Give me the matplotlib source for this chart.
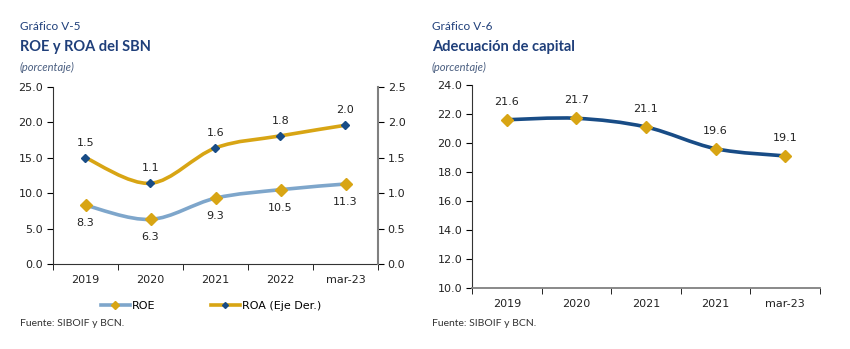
import matplotlib
matplotlib.use("Agg")
import matplotlib.pyplot as plt
from matplotlib.path import Path
from matplotlib.patches import PathPatch
from matplotlib.lines import Line2D

# ROE / ROA del SBN
years_left = ["2019", "2020", "2021", "2022", "mar-23"]
roe = [8.3, 6.3, 9.3, 10.5, 11.3]
roa = [1.50, 1.14, 1.64, 1.81, 1.96]

# Adecuación de capital
years_right = ["2019", "2020", "2021", "2021", "mar-23"]
adecuacion = [21.6, 21.7, 21.1, 19.6, 19.1]

NAVY = "#1F3F7A"
LIGHT_BLUE = "#7EA6CB"
GOLD = "#D8A514"
DARK_BLUE = "#184C86"
TICK_FONT = "DejaVu Sans"
TITLE_FONT = "Lato"


def smooth_path(xs, ys, k=1 / 6):
    # Catmull-Rom style Bezier through the data points
    pts = list(zip(xs, ys))
    verts = [pts[0]]
    codes = [Path.MOVETO]
    n = len(pts)
    for i in range(n - 1):
        p0 = pts[i - 1] if i > 0 else pts[i]
        p1 = pts[i]
        p2 = pts[i + 1]
        p3 = pts[i + 2] if i + 2 < n else pts[i + 1]
        c1 = (p1[0] + (p2[0] - p0[0]) * k, p1[1] + (p2[1] - p0[1]) * k)
        c2 = (p2[0] - (p3[0] - p1[0]) * k, p2[1] - (p3[1] - p1[1]) * k)
        verts += [c1, c2, p2]
        codes += [Path.CURVE4] * 3
    return Path(verts, codes)


def draw_series(ax, ys, color, lw, mcolor, marker_size, zorder=3):
    xs = list(range(len(ys)))
    ax.add_patch(PathPatch(smooth_path(xs, ys), facecolor="none",
                           edgecolor=color, lw=lw, zorder=zorder,
                           capstyle="round"))
    ax.plot(xs, ys, ls="none", marker="D", ms=marker_size, color=mcolor,
            zorder=zorder + 1)


def headers(x, title):
    fig.text(x, 1 - 27 / 349, "Gráfico V-" + title[0], fontsize=8.5,
             color=NAVY, family=TITLE_FONT, va="center")
    fig.text(x, 1 - 47 / 349, title[1], fontsize=10.5, color=NAVY,
             family=TITLE_FONT, weight="bold", va="center")
    fig.text(x, 1 - 67 / 349, "(porcentaje)", fontsize=8, color="#4A5E80",
             family=TITLE_FONT, style="italic", va="center")


fig = plt.figure(figsize=(8.5, 3.49), dpi=100)

# ---- left chart
ax = fig.add_axes([53 / 850, 1 - 264 / 349, 325 / 850, 177 / 349])
ax2 = ax.twinx()
ax.set_xlim(-0.5, 4.5)
ax.set_ylim(0, 25)
ax2.set_ylim(0, 2.5)
ax.set_yticks([0, 5, 10, 15, 20, 25])
ax2.set_yticks([0, 0.5, 1.0, 1.5, 2.0, 2.5])
ax.set_yticklabels([f"{v:.1f}" for v in ax.get_yticks()])
ax2.set_yticklabels([f"{v:.1f}" for v in ax2.get_yticks()])
ax.set_xticks(range(len(years_left)))
ax.set_xticklabels(years_left)
ax.set_xticks([i - 0.5 for i in range(len(years_left) + 1)], minor=True)
ax.tick_params(axis="x", which="major", length=0, pad=8)
ax.tick_params(axis="x", which="minor", length=4, direction="out")
ax.tick_params(axis="y", length=4, direction="out", pad=3)
ax2.tick_params(axis="y", length=4, direction="out", pad=3)
for a in (ax, ax2):
    a.spines["top"].set_visible(False)
    for lab in a.get_xticklabels() + a.get_yticklabels():
        lab.set_fontsize(8)
        lab.set_family(TICK_FONT)
        lab.set_color("#222222")
ax2.spines["left"].set_visible(False)
ax2.spines["bottom"].set_visible(False)
ax.spines["right"].set_visible(False)
ax2.spines["right"].set_color("#808080")
ax2.spines["right"].set_linewidth(1.5)
ax.spines["bottom"].set_color("#333333")
ax.spines["left"].set_color("#333333")

draw_series(ax, roe, LIGHT_BLUE, 2.6, GOLD, 6.5)
draw_series(ax2, roa, GOLD, 2.6, DARK_BLUE, 4.5)
for i, v in enumerate(roe):
    ax.annotate(f"{v:.1f}", (i, v), xytext=(0, -13), textcoords="offset points",
                ha="center", va="center", fontsize=8, family=TICK_FONT,
                color="#222222")
for i, v in enumerate(roa):
    ax2.annotate(f"{v:.1f}", (i, v), xytext=(0, 11), textcoords="offset points",
                 ha="center", va="center", fontsize=8, family=TICK_FONT,
                 color="#222222")

handles = [
    Line2D([], [], color=LIGHT_BLUE, lw=2.6, marker="D", ms=4,
           mfc=GOLD, mec=GOLD),
    Line2D([], [], color=GOLD, lw=2.6, marker="D", ms=3,
           mfc=DARK_BLUE, mec=DARK_BLUE),
]
fig.legend(handles, ["ROE", "ROA (Eje Der.)"], loc="center",
           bbox_to_anchor=(211 / 850, 1 - 306 / 349), ncol=2, frameon=False,
           handlelength=2.6, columnspacing=5.0, handletextpad=0.2,
           prop={"family": TICK_FONT, "size": 8})
fig.text(20 / 850, 1 - 323 / 349, "Fuente: SIBOIF y BCN.", fontsize=7.5,
         family=TITLE_FONT, color="#333333", va="center")
headers(20 / 850, ("5", "ROE y ROA del SBN"))

# ---- right chart
bx = fig.add_axes([472 / 850, 1 - 287.7 / 349, 348 / 850, 202.7 / 349])
bx.set_xlim(-0.5, 4.5)
bx.set_ylim(10, 24)
bx.set_yticks(range(10, 25, 2))
bx.set_yticklabels([f"{v:.1f}" for v in range(10, 25, 2)])
bx.set_xticks(range(len(years_right)))
bx.set_xticklabels(years_right)
bx.set_xticks([i - 0.5 for i in range(len(years_right) + 1)], minor=True)
bx.tick_params(axis="x", which="major", length=0, pad=8)
bx.tick_params(axis="x", which="minor", length=4, direction="out")
bx.tick_params(axis="y", length=4, direction="out", pad=3)
for lab in bx.get_xticklabels() + bx.get_yticklabels():
    lab.set_fontsize(8)
    lab.set_family(TICK_FONT)
    lab.set_color("#222222")
bx.spines["top"].set_visible(False)
bx.spines["right"].set_visible(False)
bx.spines["left"].set_color("#333333")
bx.spines["bottom"].set_color("#808080")
bx.spines["bottom"].set_linewidth(1.3)

draw_series(bx, adecuacion, DARK_BLUE, 2.6, GOLD, 6.5)
for i, v in enumerate(adecuacion):
    bx.annotate(f"{v:.1f}", (i, v), xytext=(0, 13), textcoords="offset points",
                ha="center", va="center", fontsize=8, family=TICK_FONT,
                color="#222222")
fig.text(432 / 850, 1 - 323 / 349, "Fuente: SIBOIF y BCN.", fontsize=7.5,
         family=TITLE_FONT, color="#333333", va="center")
headers(432 / 850, ("6", "Adecuación de capital"))

fig.savefig("out.png", dpi=100)
